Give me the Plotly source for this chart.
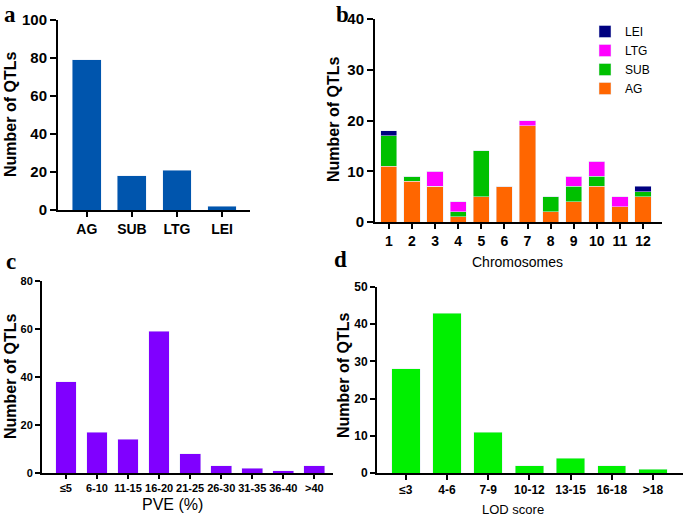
import plotly.graph_objects as go

# ---- data ----
trait_cats = ["AG", "SUB", "LTG", "LEI"]
trait_counts = [79, 18, 21, 2]

chromosomes = [str(i) for i in range(1, 13)]
ag_counts = [11, 8, 7, 1, 5, 7, 19, 2, 4, 7, 3, 5]
sub_counts = [6, 1, 0, 1, 9, 0, 0, 3, 3, 2, 0, 1]
ltg_counts = [0, 0, 3, 2, 0, 0, 1, 0, 2, 3, 2, 0]
lei_counts = [1, 0, 0, 0, 0, 0, 0, 0, 0, 0, 0, 1]

pve_cats = ["≤5", "6-10", "11-15", "16-20", "21-25", "26-30", "31-35", "36-40", ">40"]
pve_counts = [38, 17, 14, 59, 8, 3, 2, 1, 3]

lod_cats = ["≤3", "4-6", "7-9", "10-12", "13-15", "16-18", ">18"]
lod_counts = [28, 43, 11, 2, 4, 2, 1]

W, H = 685, 519
def px(x):
    return x / W
def py(y):
    return 1 - y / H

SANS = "Liberation Sans, Arial, sans-serif"

fig = go.Figure()

# panel a
fig.add_trace(go.Bar(x=trait_cats, y=trait_counts, marker_color="#0055AD", width=0.64,
                     xaxis="x", yaxis="y", showlegend=False))
# panel b (stacked)
for name, vals, col in [("AG", ag_counts, "#FF6600"), ("SUB", sub_counts, "#00C000"),
                        ("LTG", ltg_counts, "#FF00FF"), ("LEI", lei_counts, "#000080")]:
    fig.add_trace(go.Bar(x=chromosomes, y=vals, name=name, marker_color=col, width=0.7,
                         xaxis="x2", yaxis="y2"))
# panel c
fig.add_trace(go.Bar(x=pve_cats, y=pve_counts, marker_color="#8000FF", width=0.67,
                     xaxis="x3", yaxis="y3", showlegend=False))
# panel d
fig.add_trace(go.Bar(x=lod_cats, y=lod_counts, marker_color="#00F000", width=0.69,
                     xaxis="x4", yaxis="y4", showlegend=False))

def xax(domain, rng, anchor, size, ticklen=5):
    return dict(domain=domain, range=rng, anchor=anchor, type="category",
                showline=True, linecolor="black", linewidth=2,
                ticks="outside", ticklen=ticklen, tickwidth=2, tickcolor="black",
                showgrid=False, zeroline=False, fixedrange=True, tickangle=0,
                automargin=False,
                tickfont=dict(family=SANS, size=size, color="black", weight="bold"))

def yax(domain, rng, dtick, anchor, size, ticklen=6):
    return dict(domain=domain, range=rng, anchor=anchor, dtick=dtick,
                showline=True, linecolor="black", linewidth=2,
                ticks="outside", ticklen=ticklen, tickwidth=2, tickcolor="black",
                showgrid=False, zeroline=False, fixedrange=True, automargin=False,
                tickfont=dict(family=SANS, size=size, color="black", weight="bold"))

fig.update_layout(
    width=W, height=H,
    margin=dict(l=0, r=0, t=0, b=0),
    paper_bgcolor="white", plot_bgcolor="white",
    barmode="stack",
    xaxis=xax([px(58), px(250)], [-0.64, 3.62], "y", 14),
    yaxis=yax([py(210), py(20)], [0, 100], 20, "x", 15),
    xaxis2=xax([px(375), px(662)], [-0.6, 11.82], "y2", 14),
    yaxis2=yax([py(222), py(19)], [0, 40], 10, "x2", 15),
    xaxis3=xax([px(42), px(333)], [-0.77, 8.6], "y3", 11, ticklen=4),
    yaxis3=yax([py(473), py(281)], [0, 80], 20, "x3", 11, ticklen=5),
    xaxis4=xax([px(377), px(683)], [-0.7, 6.73], "y4", 12),
    yaxis4=yax([py(473), py(287)], [0, 50], 10, "x4", 12, ticklen=5),
    legend=dict(x=px(585), y=py(17), xanchor="left", yanchor="top",
                traceorder="reversed", font=dict(family=SANS, size=12, color="black"),
                itemwidth=30, tracegroupgap=0, bgcolor="rgba(0,0,0,0)"),
)

anns = []
# panel letters
for letter, x, y, anchor in [("a", 2, 0, "top"), ("b", 334, 0, "top"),
                             ("c", 4, 276, "bottom"), ("d", 332, 274, "bottom")]:
    anns.append(dict(text=letter, x=px(x), y=py(y), xref="paper", yref="paper",
                     xanchor="left", yanchor=anchor, showarrow=False,
                     font=dict(family="Liberation Serif", size=23, color="black", weight="bold")))
# y titles
for x, y in [(10, 115), (333, 120), (10, 377), (343, 376)]:
    anns.append(dict(text="Number of QTLs", x=px(x), y=py(y), xref="paper", yref="paper",
                     xanchor="center", yanchor="middle", textangle=-90, showarrow=False,
                     font=dict(family=SANS, size=16, color="black", weight="bold")))
# x titles
anns.append(dict(text="Chromosomes", x=px(517), y=py(262), xref="paper", yref="paper",
                 showarrow=False, xanchor="center", yanchor="middle",
                 font=dict(family=SANS, size=14, color="black")))
anns.append(dict(text="PVE (%)", x=px(172), y=py(504), xref="paper", yref="paper",
                 showarrow=False, xanchor="center", yanchor="middle",
                 font=dict(family=SANS, size=16, color="black")))
anns.append(dict(text="LOD score", x=px(513), y=py(509), xref="paper", yref="paper",
                 showarrow=False, xanchor="center", yanchor="middle",
                 font=dict(family=SANS, size=13, color="black")))
fig.update_layout(annotations=anns)

fig.write_html("out.html", config={"displayModeBar": False},
               post_script="document.body.style.margin='0px';")
